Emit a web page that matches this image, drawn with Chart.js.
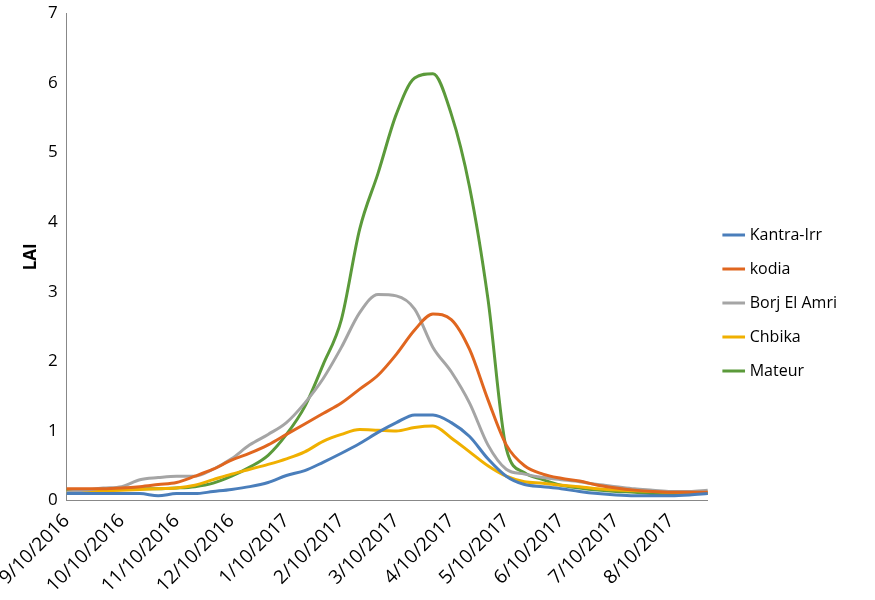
<!DOCTYPE html>
<html><head><meta charset="utf-8">
<script src="https://cdn.jsdelivr.net/npm/chart.js@4/dist/chart.umd.min.js"></script>
<style>html,body{margin:0;background:#fff}#wrap{width:875px;height:600px}</style>
</head><body><div id="wrap"><canvas id="c"></canvas></div>
<script>
// 36 dates, 10 days apart, starting 9/10/2016
const labels = [];
const start = new Date(2016, 8, 10);
for (let i = 0; i < 36; i++) {
    const d = new Date(start.getTime() + i * 10 * 86400000);
    labels.push((d.getMonth() + 1) + '/' + d.getDate() + '/' + d.getFullYear());
}
const tickLabels = ['9/10/2016','10/10/2016','11/10/2016','12/10/2016','1/10/2017','2/10/2017','3/10/2017','4/10/2017','5/10/2017','6/10/2017','7/10/2017','8/10/2017'];

const kantra = [0.1,0.1,0.1,0.1,0.1,0.07,0.1,0.1,0.13,0.16,0.2,0.26,0.36,0.43,0.55,0.68,0.82,0.98,1.12,1.23,1.23,1.12,0.92,0.6,0.35,0.23,0.2,0.17,0.13,0.1,0.08,0.07,0.07,0.07,0.08,0.1];
const kodia = [0.17,0.17,0.17,0.18,0.2,0.23,0.26,0.35,0.45,0.58,0.68,0.8,0.95,1.1,1.25,1.4,1.6,1.8,2.1,2.45,2.68,2.6,2.17,1.45,0.8,0.5,0.38,0.32,0.28,0.22,0.18,0.15,0.13,0.12,0.12,0.12];
const borj = [0.12,0.15,0.18,0.2,0.3,0.33,0.35,0.35,0.45,0.6,0.8,0.95,1.12,1.4,1.75,2.2,2.7,2.96,2.94,2.75,2.2,1.85,1.4,0.8,0.45,0.38,0.33,0.3,0.27,0.23,0.2,0.17,0.15,0.13,0.13,0.15];
const chbika = [0.12,0.13,0.14,0.15,0.16,0.17,0.18,0.22,0.3,0.38,0.45,0.52,0.6,0.7,0.85,0.95,1.02,1.01,1.0,1.05,1.07,0.9,0.7,0.5,0.35,0.27,0.25,0.22,0.2,0.17,0.15,0.14,0.13,0.12,0.12,0.12];
const mateur = [0.15,0.15,0.15,0.16,0.17,0.17,0.18,0.2,0.25,0.35,0.48,0.65,0.95,1.35,1.95,2.6,3.9,4.7,5.55,6.07,6.13,5.55,4.5,2.9,0.75,0.4,0.3,0.22,0.18,0.15,0.13,0.12,0.1,0.1,0.1,0.1];

const series = [
    ['Kantra-Irr', kantra, '#4a7ebb'],
    ['kodia', kodia, '#e0661f'],
    ['Borj El Amri', borj, '#a5a5a5'],
    ['Chbika', chbika, '#f0b000'],
    ['Mateur', mateur, '#5b9a3a']
];

const font = { family: 'Open Sans', size: 16 };
new Chart(document.getElementById('c'), {
    type: 'line',
    data: {
        labels: labels,
        datasets: series.map(s => ({
            label: s[0], data: s[1], borderColor: s[2], backgroundColor: s[2],
            borderWidth: 3, pointRadius: 0, tension: 0.3, cubicInterpolationMode: 'monotone'
        }))
    },
    options: {
        responsive: true, maintainAspectRatio: false, animation: false,
        layout: { padding: { top: 6, right: 28, left: 16, bottom: 0 } },
        plugins: {
            legend: {
                position: 'right',
                labels: { usePointStyle: true, pointStyle: 'line', boxWidth: 36, color: '#000', font: font, padding: 18 }
            }
        },
        scales: {
            x: {
                offset: false,
                grid: { display: false, drawTicks: true, tickLength: 6, color: '#888' },
                border: { color: '#888' },
                ticks: {
                    autoSkip: false, maxRotation: 45, minRotation: 45, color: '#000',
                    font: { family: 'Open Sans', size: 19 },
                    callback: (v, i) => i % 3 === 0 ? tickLabels[i / 3] : ''
                }
            },
            y: {
                min: 0, max: 7,
                grid: { display: false, drawTicks: true, tickLength: 6, color: '#888' },
                border: { color: '#888' },
                ticks: { stepSize: 1, color: '#000', font: { family: 'Open Sans', size: 17 } },
                title: { display: true, text: 'LAI', color: '#000', font: { family: 'Open Sans', size: 17, weight: 'bold' } }
            }
        }
    }
});
</script></body></html>
